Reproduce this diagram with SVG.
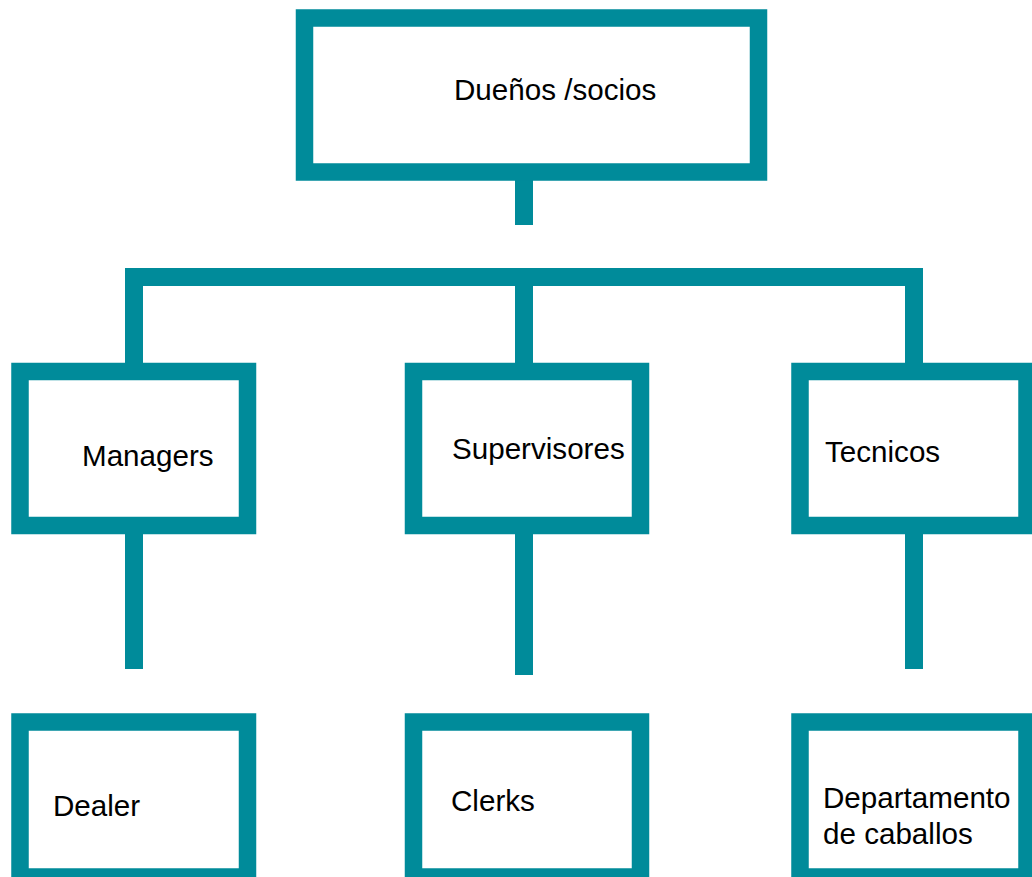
<svg xmlns="http://www.w3.org/2000/svg" width="1032" height="877" viewBox="0 0 1032 877">
<style>
.box{fill:#ffffff;stroke:#008B9A;stroke-width:17.5}
.conn{fill:none;stroke:#008B9A;stroke-width:18;stroke-linecap:butt;stroke-linejoin:miter}
.lbl{font-family:"Liberation Sans",Arial,sans-serif;font-size:29.6px;fill:#000000}
</style>
<rect width="1032" height="877" fill="#ffffff"/>
<g id="connectors">
<path class="conn" d="M524 175 V225"/>
<path class="conn" d="M134 371 V277 H914 V371"/>
<path class="conn" d="M524 277 V371"/>
<path class="conn" d="M134 525 V669"/>
<path class="conn" d="M524 525 V675"/>
<path class="conn" d="M914 525 V669"/>
</g>
<g id="node-duenos">
<rect class="box" x="304.5" y="18" width="454" height="154"/>
<text class="lbl" x="454" y="100">Dueños /socios</text>
</g>
<g id="node-managers">
<rect class="box" x="20" y="371.5" width="227.5" height="154"/>
<text class="lbl" x="82" y="466">Managers</text>
</g>
<g id="node-supervisores">
<rect class="box" x="413.5" y="371.5" width="227" height="154"/>
<text class="lbl" x="452" y="459">Supervisores</text>
</g>
<g id="node-tecnicos">
<rect class="box" x="800" y="371.5" width="227" height="154"/>
<text class="lbl" x="825" y="462">Tecnicos</text>
</g>
<g id="node-dealer">
<rect class="box" x="20" y="722" width="227.5" height="155"/>
<text class="lbl" x="53" y="816">Dealer</text>
</g>
<g id="node-clerks">
<rect class="box" x="413.5" y="722" width="227" height="155"/>
<text class="lbl" x="451" y="811">Clerks</text>
</g>
<g id="node-departamento">
<rect class="box" x="800" y="722" width="227" height="155"/>
<text class="lbl" x="823" y="808">Departamento</text>
<text class="lbl" x="823" y="844">de caballos</text>
</g>
</svg>
